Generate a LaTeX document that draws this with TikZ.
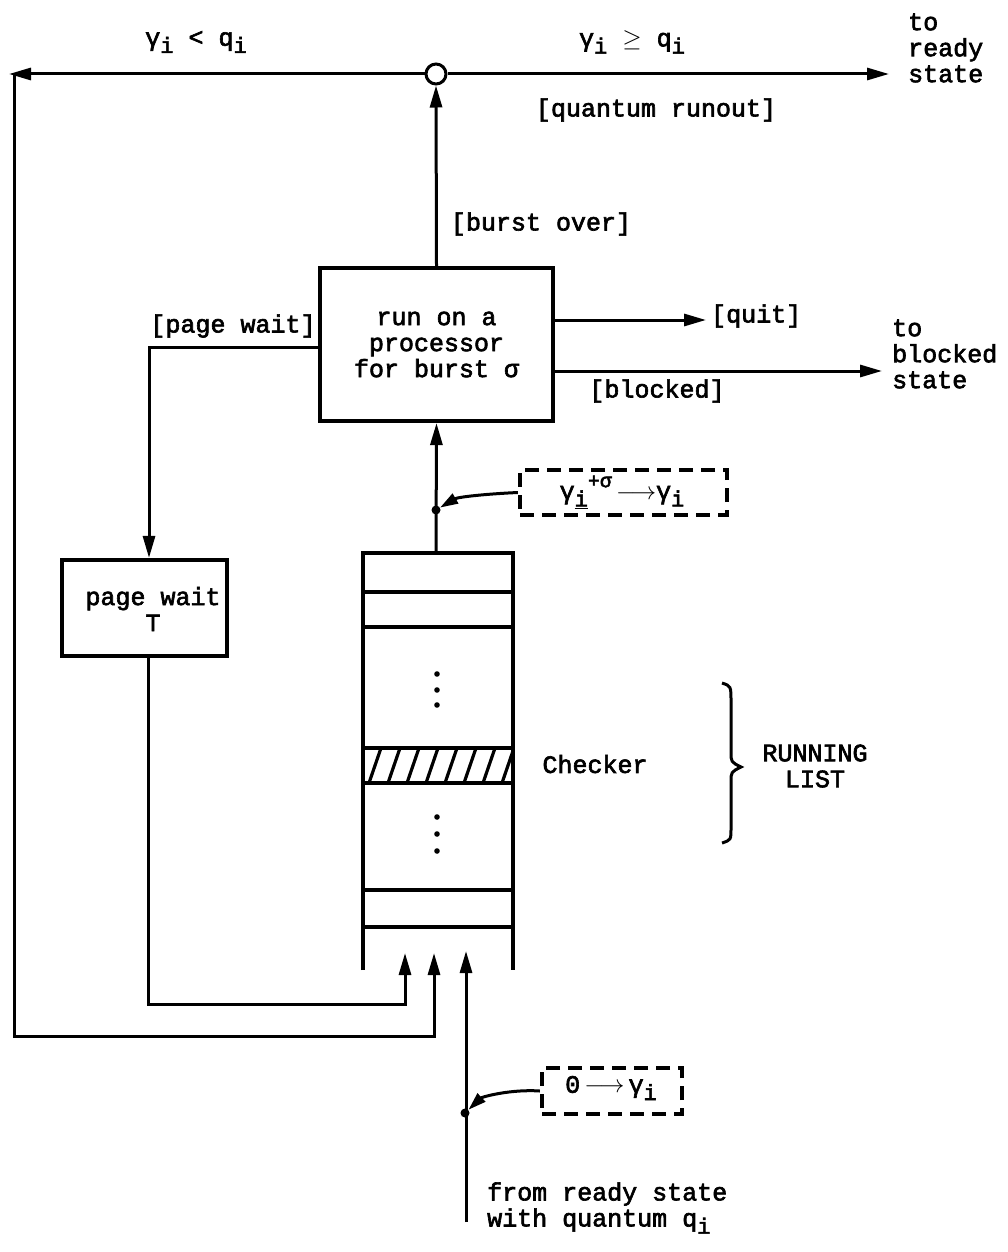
\documentclass[tikz,border=0pt]{standalone}
\usepackage{fontspec}
\setmainfont{Liberation Mono}[FakeBold=2.5]
\usetikzlibrary{arrows.meta}
\newcommand{\sbx}[1]{\raisebox{-0.55ex}{\fontsize{22}{22}\selectfont #1}}
\begin{document}
\begin{tikzpicture}[x=1pt,y=-1pt,
  font=\fontsize{25}{26}\selectfont,
  arr/.style={line width=3pt,-{Triangle[length=22pt,width=12pt]}},
  box/.style={draw,line width=4.2pt,inner sep=0pt},
  dbox/.style={draw,line width=4.2pt,dash pattern=on 14pt off 8pt,inner sep=0pt},
  lbl/.style={inner sep=0pt},
  dotc/.style={circle,fill,inner sep=0pt,minimum size=9pt}]
\useasboundingbox (0,0) rectangle (1007,1252);

% nodes
\node[draw,circle,line width=3pt,minimum size=20pt,inner sep=0pt,fill=white] (c) at (436,74) {};
\node[box,minimum width=233pt,minimum height=153pt,align=center] (proc) at (436.5,344.5) {run on a\\ processor\\for burst σ};
\node[box,minimum width=165pt,minimum height=96pt] (pw) at (144.5,608) {};
\node[lbl,align=center] (pwt) at (153,609) {page wait\\T};

\node[dbox,minimum width=207pt,minimum height=45pt] (d1) at (623.5,492.5) {};
\node[lbl] (d1t) at (622,492) {γ\sbx{\underline{i}}\raisebox{0.9ex}{\fontsize{20}{20}\selectfont +σ}\,$\longrightarrow$γ\sbx{i}};
\node[dbox,minimum width=140pt,minimum height=46pt] (d2) at (612,1091) {};
\node[lbl] (d2t) at (611,1088) {0\,$\longrightarrow$\,γ\sbx{i}};

% labels
\node[lbl] (l1) at (196,42) {γ\sbx{i} < q\sbx{i}};
\node[lbl] (l2) at (632,42) {γ\sbx{i} \ensuremath{\geq} q\sbx{i}};
\node[lbl,align=left,anchor=west] (l3) at (908,48) {to\\ready\\state};
\node[lbl] (l4) at (656,110) {[quantum runout]};
\node[lbl] (l5) at (541,224) {[burst over]};
\node[lbl] (l6) at (233,326) {[page wait]};
\node[lbl,anchor=west] (l7) at (711,316) {[quit]};
\node[lbl] (l8) at (657,391) {[blocked]};
\node[lbl,align=left,anchor=west] (l9) at (892,354) {to\\blocked\\state};
\node[lbl] (l10) at (595,764) {Checker};
\node[lbl,align=center] (l11) at (815,766) {RUNNING\\ LIST};
\node[lbl,align=left,anchor=west] (l12) at (487,1208) {from ready state\\with quantum q\sbx{i}};

% coordinates
\coordinate (tl) at (9,74);
\coordinate (tr) at (889,74);
\coordinate (lc) at (14,74);
\coordinate (in1) at (405,953);
\coordinate (in2) at (434,953);
\coordinate (in3) at (466,951);
\coordinate (src) at (466,1222);
\coordinate (qtop) at (436,553);
\coordinate (j1) at (436,510);
\coordinate (j2) at (465,1113);
\coordinate (quitend) at (706,320);
\coordinate (blkend) at (882,371);

% queue
\draw[line width=3.8pt] (363,970) -- (363,553) -- (513,553) -- (513,970);
\foreach \yy in {592,627,748,783,890,927}
  \draw[line width=3.8pt] (363,\yy) -- (513,\yy);
\begin{scope}
  \clip (363,748) rectangle (513,783);
  \foreach \xx in {350,369,...,520}
    \draw[line width=3.2pt] (\xx,783) -- (\xx+12,748);
\end{scope}
\foreach \yy in {674,690,705,817,834,851}
  \fill (437,\yy) circle (2.8pt);

% connectors
\draw[arr] (proc.north) -- (c.south);
\draw[arr] (c.west) -- (tl);
\draw[arr] (c.east) -- (tr);
\draw[arr] (lc) -- (14,1036) -| (in2);
\draw[arr] ([yshift=-2.5pt]proc.west) -| ([xshift=4.5pt]pw.north);
\draw[arr] ([xshift=3.5pt]pw.south) |- (148,1004) -| (in1);
\draw[arr] (qtop) -- (proc.south);
\draw[arr] ([yshift=24.5pt]proc.east) -- (quitend);
\draw[arr] ([yshift=-26.5pt]proc.east) -- (blkend);
\draw[arr] (src) -- (in3);
\node[dotc] (jd1) at (j1) {};
\node[dotc] (jd2) at (j2) {};
\draw[line width=3pt,-{Triangle[length=18pt,width=11pt]}] (d1.west) .. controls (485,494) and (458,497) .. (jd1);
\draw[line width=3pt,-{Triangle[length=18pt,width=11pt]}] (d2.west) .. controls (510,1089) and (482,1097) .. (jd2);

% brace
\draw[line width=3pt] (722,683) .. controls (731,686) .. (731,702) -- (731,752) .. controls (731,762) .. (741,767) .. controls (731,772) .. (731,782) -- (731,828) .. controls (731,840) .. (722,843);
\end{tikzpicture}
\end{document}
